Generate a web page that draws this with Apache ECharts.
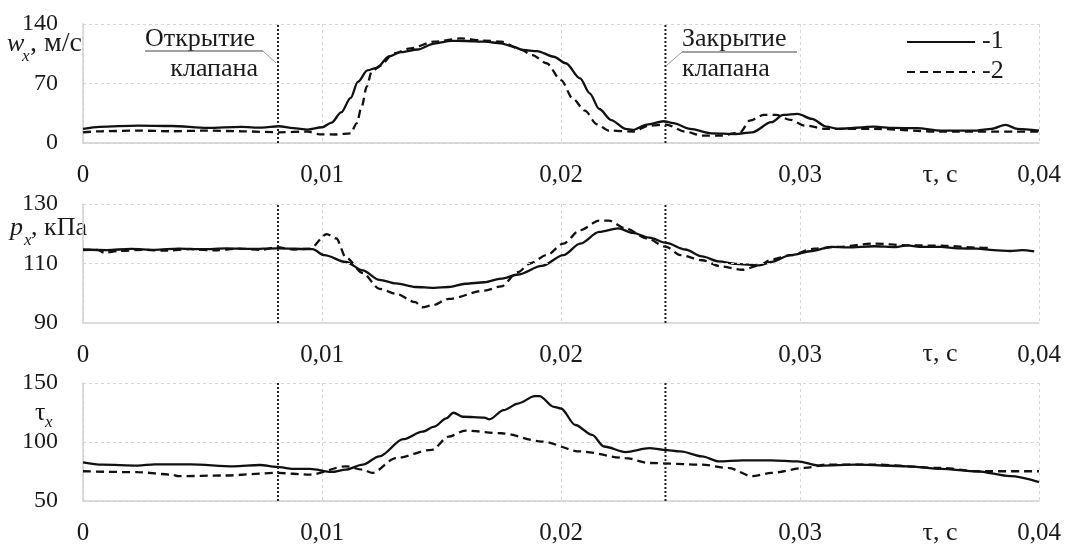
<!DOCTYPE html>
<html>
<head>
<meta charset="utf-8">
<script src="https://cdn.jsdelivr.net/npm/echarts@6/dist/echarts.min.js"></script>
<style>
  html, body { margin: 0; padding: 0; background: #fff; }
  #chart { width: 1068px; height: 546px; }
</style>
</head>
<body>
<div id="chart"></div>
<script>
// Time grid of the x axes, s
const timeTicks = [0, 0.01, 0.02, 0.03, 0.04];
// Valve opening / closing instants, s
const tOpen = 0.00816;
const tClose = 0.02437;

// Velocity w_x, m/s — curve 1 (solid) and curve 2 (dashed), [t, value]
const wx1 = [[0,16.5],[0.0007,19],[0.0023,20.5],[0.0037,20],[0.0052,17.7],[0.0066,18.9],[0.0075,18.1],[0.0082,19.7],[0.0088,17.4],[0.0094,15.8],[0.0100,18.5],[0.0104,24],[0.0108,36],[0.0112,53],[0.0115,72],[0.0119,85.5],[0.0123,88.5],[0.0128,102],[0.0133,107],[0.0140,110],[0.0147,117],[0.0154,120.2],[0.0160,120],[0.0168,119.2],[0.0175,117.3],[0.0180,113.3],[0.0184,109.4],[0.0190,108.2],[0.0197,101.5],[0.0202,93.8],[0.0208,76],[0.0212,58.5],[0.0216,40],[0.0221,27],[0.0227,16.6],[0.0230,15.4],[0.0236,21.7],[0.0243,25.6],[0.0247,23.3],[0.0254,16.6],[0.0263,11.4],[0.0273,10.6],[0.0280,12.6],[0.0288,24.5],[0.0293,33.1],[0.0299,34.3],[0.0305,28.4],[0.0311,19.3],[0.0316,16.6],[0.0331,19.3],[0.0339,17.7],[0.0349,17.4],[0.0359,14.6],[0.0374,14.6],[0.0380,16.6],[0.0386,21.3],[0.0391,16.6],[0.0400,14.6]];
const wx2 = [[0,12.6],[0.0008,13.8],[0.0023,14.6],[0.0037,13.8],[0.0052,14.6],[0.0066,13.8],[0.0082,12.6],[0.0094,13.4],[0.0099,10.2],[0.0106,10],[0.0112,11.4],[0.01145,23.2],[0.01166,42.7],[0.01187,66.3],[0.01208,84],[0.01243,90.8],[0.0130,105.5],[0.0137,111.4],[0.0147,119.2],[0.0158,123],[0.0168,120.4],[0.0175,119.2],[0.0183,110.2],[0.0188,103.5],[0.0194,93.8],[0.0200,74],[0.0205,52],[0.0210,38],[0.0215,22],[0.0220,14.6],[0.0230,13.4],[0.0237,20.5],[0.0244,21.7],[0.0252,13.4],[0.0259,8.7],[0.0267,8.7],[0.0275,12.6],[0.0279,26.4],[0.0285,33.1],[0.0290,33.1],[0.0296,27.2],[0.0302,20.5],[0.0311,16.6],[0.0331,16.6],[0.0359,13.4],[0.0400,13.4]];

// Pressure p_x, kPa
const px1 = [[0,114.7],[0.001,114.5],[0.002,114.9],[0.003,114.6],[0.004,115],[0.005,114.8],[0.006,115.1],[0.007,114.9],[0.0081,115.1],[0.0096,114.8],[0.0101,112.8],[0.011,110.5],[0.0117,107.7],[0.0124,104.5],[0.0131,103.3],[0.0139,102.1],[0.0147,101.8],[0.0153,102.1],[0.016,103.2],[0.0168,103.7],[0.0175,104.9],[0.0182,106.3],[0.0192,109.2],[0.0201,112.8],[0.0208,116.7],[0.0216,120.6],[0.0224,121.8],[0.023,120.3],[0.0237,118.7],[0.0244,116.9],[0.0252,114.7],[0.0259,112.4],[0.0266,110.7],[0.0273,109.9],[0.0283,109.4],[0.0288,110.5],[0.0296,112.8],[0.0305,114.2],[0.0313,115.6],[0.032,115.4],[0.0331,115.8],[0.034,115.5],[0.0345,116.1],[0.035,115.6],[0.0359,115.6],[0.0366,115.1],[0.0374,115],[0.0381,114.5],[0.0388,114.2],[0.0393,114.5],[0.0398,114.1]];
const px2 = [[0,114.5],[0.0006,114.6],[0.0009,113.6],[0.0015,114.2],[0.0025,114.6],[0.0035,114.3],[0.0045,114.8],[0.0055,114.4],[0.0065,115],[0.0075,114.6],[0.0081,115.5],[0.0088,114.7],[0.0095,115],[0.0102,119.9],[0.0106,118.4],[0.011,112],[0.0117,106.8],[0.0124,101.5],[0.0131,99.8],[0.0139,97],[0.0142,95.3],[0.0146,95.9],[0.0153,98.1],[0.0168,100.9],[0.0175,102.3],[0.0182,107.1],[0.0187,110],[0.0194,112.8],[0.0201,116.7],[0.0208,121.2],[0.0216,124.4],[0.022,124.4],[0.0227,121.8],[0.0236,118.4],[0.0244,115.6],[0.025,112.8],[0.0259,111.1],[0.0267,109],[0.0276,107.9],[0.0283,109.4],[0.0288,111.3],[0.0296,112.8],[0.0306,115],[0.0316,115.6],[0.0331,116.7],[0.0345,116.1],[0.036,116],[0.0374,115.3],[0.038,115.2]];
const pGrid = [110, 130];

// Wall shear stress tau_x
const tx1 = [[0,82.8],[0.0008,80.8],[0.0023,80],[0.003,81.1],[0.0045,81.1],[0.0063,79.4],[0.0074,80.5],[0.0081,78.9],[0.0088,77.2],[0.0095,77.2],[0.0104,74.6],[0.011,76.6],[0.0117,80.8],[0.0124,87.8],[0.0134,102.4],[0.0142,108.8],[0.0147,113],[0.0152,120],[0.0155,124.8],[0.0159,121.4],[0.0168,120.6],[0.017,119.2],[0.0176,127],[0.0182,132.6],[0.0189,138.8],[0.0191,138.8],[0.0197,129.8],[0.02,128.4],[0.0206,114.4],[0.0213,106],[0.0218,96.2],[0.0227,91.5],[0.0237,94.8],[0.0243,93.4],[0.025,92],[0.0259,87.8],[0.0266,83.6],[0.0276,84.5],[0.0288,84.5],[0.0299,83.6],[0.0308,80],[0.0324,80.8],[0.0345,79.4],[0.0359,77.2],[0.0374,75.2],[0.0388,71],[0.04,66]];
const tx2 = [[0,75.2],[0.0023,74.4],[0.0037,72.4],[0.004,71],[0.0059,71.6],[0.0081,73.8],[0.0095,72.4],[0.011,79.4],[0.0117,76.6],[0.0121,73.8],[0.0131,86.4],[0.0146,93.4],[0.0153,104.6],[0.016,109.7],[0.0175,107.4],[0.0192,100.4],[0.0208,92],[0.0227,86.4],[0.0237,82.2],[0.0259,80.8],[0.027,78],[0.028,71],[0.0288,73.8],[0.0302,78],[0.0311,80.8],[0.0331,80.8],[0.0359,78],[0.0374,75.2],[0.04,75.2]];

const seriesNames = ['-1', '-2'];

const FONT = '"Liberation Serif", "Times New Roman", serif';
const INK = '#1a1a1a';
const AXIS_GREY = '#d0d0d0';
const GRID_GREY = '#d6d6d6';
const LINE_W = 2.3;

const chart = echarts.init(document.getElementById('chart'), null, { renderer: 'canvas' });

const panels = [
  { top: 24, min: 0, max: 140, interval: 70 },
  { top: 204, min: 90, max: 130, interval: 10, labels: [90, 110, 130] },
  { top: 383, min: 50, max: 150, interval: 50 }
];

const grids = panels.map(p => ({ left: 83, width: 956, top: p.top, height: 119, containLabel: false }));

const xAxes = panels.map((p, i) => ({
  type: 'value', gridIndex: i, min: timeTicks[0], max: timeTicks[timeTicks.length - 1],
  interval: timeTicks[1] - timeTicks[0],
  axisLine: { show: true, lineStyle: { color: AXIS_GREY, width: 1.5 } },
  axisTick: { show: false },
  splitLine: { show: true, lineStyle: { color: GRID_GREY, type: [3, 3], width: 1 } },
  axisLabel: {
    color: INK, fontFamily: FONT, fontSize: 25, margin: 20,
    formatter: v => v === 0 ? '0' : v.toFixed(2).replace('.', ',')
  }
}));

const yAxes = panels.map((p, i) => ({
  type: 'value', gridIndex: i, min: p.min, max: p.max, interval: p.interval,
  axisLine: { show: true, lineStyle: { color: AXIS_GREY, width: 1.5 } },
  axisTick: { show: false },
  splitLine: { show: !p.labels, lineStyle: { color: GRID_GREY, type: [3, 3], width: 1 } },
  axisLabel: {
    color: INK, fontFamily: FONT, fontSize: 24, margin: 25,
    formatter: v => (!p.labels || p.labels.indexOf(v) >= 0) ? String(v) : ''
  }
}));

function solid(name, data, idx, extraMarks) {
  const s = {
    name, type: 'line', data, xAxisIndex: idx, yAxisIndex: idx,
    symbol: 'none', smooth: 0.3, smoothMonotone: 'x',
    lineStyle: { color: '#111', width: LINE_W, type: 'solid' },
    itemStyle: { color: '#111' },
    z: 3
  };
  if (extraMarks) {
    s.markLine = { silent: true, symbol: 'none', label: { show: false }, data: extraMarks };
  }
  return s;
}
function dashed(name, data, idx) {
  return {
    name, type: 'line', data, xAxisIndex: idx, yAxisIndex: idx,
    symbol: 'none', smooth: 0.3, smoothMonotone: 'x',
    lineStyle: { color: '#111', width: LINE_W, type: [8, 5] },
    itemStyle: { color: '#111' },
    z: 2
  };
}
// Vertical dotted marker at a valve event, spanning the whole panel height
function valveLine(t, idx) {
  const p = panels[idx];
  return {
    name: 'valve', type: 'line', xAxisIndex: idx, yAxisIndex: idx,
    data: [[t, p.min], [t, p.max]], symbol: 'none', silent: true,
    lineStyle: { color: '#222', type: [2, 2], width: 2 }, z: 4
  };
}

const pGridMarks = pGrid.map(v => ({ yAxis: v, lineStyle: { color: GRID_GREY, type: [3, 3], width: 1 } }));

const txt = (x, y, text, font, align) => ({
  type: 'text', x, y, silent: true,
  style: { text, fill: INK, font, align: align || 'left', verticalAlign: 'middle' }
});
const seg = (x1, y1, x2, y2, color, width, dash) => ({
  type: 'line', silent: true, shape: { x1, y1, x2, y2 },
  style: { stroke: color, lineWidth: width || 1, lineDash: dash || null }
});

const F26 = '26px ' + FONT;
const F28 = '28px ' + FONT;
const I26 = 'italic 26px ' + FONT;
const I17 = 'italic 17px ' + FONT;

const series = [
  solid(seriesNames[0], wx1, 0),
  dashed(seriesNames[1], wx2, 0),
  solid(seriesNames[0], px1, 1, pGridMarks),
  dashed(seriesNames[1], px2, 1),
  solid(seriesNames[0], tx1, 2),
  dashed(seriesNames[1], tx2, 2)
];
[0, 1, 2].forEach(i => { series.push(valveLine(tOpen, i), valveLine(tClose, i)); });

chart.setOption({
  animation: false,
  backgroundColor: '#fff',
  grid: grids,
  xAxis: xAxes,
  yAxis: yAxes,
  series,
  graphic: [
    // axis titles
    txt(7, 44, 'w', I26), txt(22, 57, 'x', I17), txt(30, 44, ', м/с', F28),
    txt(10, 228, 'p', I26), txt(24, 241, 'x', I17), txt(31, 228, ', кПа', F26),
    txt(35, 413, 'τ', F26), txt(45, 423, 'x', I17),
    txt(940, 175, 'τ, с', F26, 'center'),
    txt(940, 354, 'τ, с', F26, 'center'),
    txt(940, 533, 'τ, с', F26, 'center'),
    // valve annotations
    txt(145, 39, 'Открытие', F26), seg(145, 51, 263, 51, '#444'), seg(263, 51, 276, 63, '#999'),
    txt(258, 69, 'клапана', F26, 'right'),
    txt(682, 39, 'Закрытие', F26), seg(682, 52, 797, 52, '#444'), seg(682, 52, 667, 65, '#999'),
    txt(682, 69, 'клапана', F26),
    // legend
    seg(907, 42, 975, 42, '#111', 2), txt(982, 41, seriesNames[0], F26),
    seg(907, 72, 975, 72, '#111', 2, [8, 5]), txt(982, 71, seriesNames[1], F26)
  ]
});
</script>
</body>
</html>
